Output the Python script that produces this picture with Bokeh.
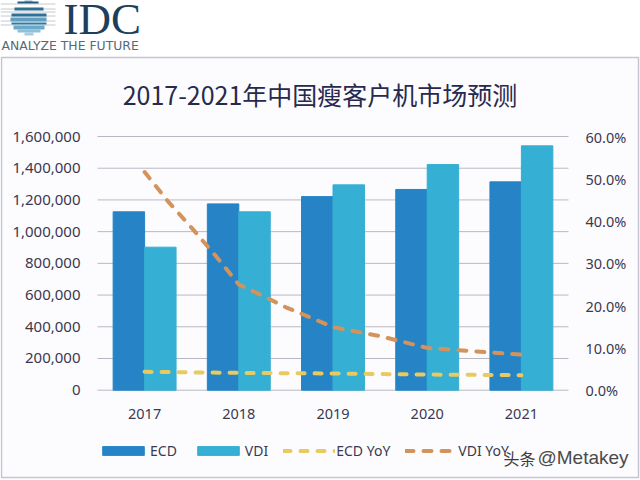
from bokeh.embed import file_html
from bokeh.models import (FixedTicker, Label, Legend, LegendItem, LinearAxis,
                          NumeralTickFormatter, Range1d)
from bokeh.plotting import figure
from bokeh.resources import INLINE

years = [2017, 2018, 2019, 2020, 2021]
ecd = [1125000, 1175000, 1221000, 1266000, 1314000]
vdi = [902000, 1125000, 1295000, 1423000, 1541000]
ecd_yoy = [0.0435, 0.041, 0.0395, 0.037, 0.0355]
# VDI YoY is a smoothed curve: at quarter-year steps
curve_x = [2017, 2017.25, 2017.5, 2017.75, 2018, 2018.25, 2018.5, 2018.75, 2019,
           2019.5, 2020, 2020.5, 2021]
vdi_yoy = [0.516, 0.446, 0.384, 0.319, 0.250, 0.224, 0.196, 0.173, 0.149,
           0.128, 0.100, 0.092, 0.084]
left_ticks = [0, 200000, 400000, 600000, 800000, 1000000, 1200000, 1400000, 1600000]
right_ticks = [0, 0.1, 0.2, 0.3, 0.4, 0.5, 0.6]
title = "2017-2021年中国瘦客户机市场预测"

W, H = 640, 480
TEXT = "#3b3850"
# The frame fills the canvas. Its default ranges are picture pixels (for the logo, title and
# watermark); the chart's own ranges are calibrated so that the plot area lands at
# x 97..568, y 136..389.7 of the picture.
PX_L, PX_R, PX_T, PX_B = 0, 640, 0, 480
X0, X1, Y_TOP, Y_ZERO = 97.0, 568.0, 136.0, 389.7
PX_PER_YEAR = (X1 - X0) / 5
VAL_PER_PX = 1600000 / (Y_ZERO - Y_TOP)
PCT_PER_PX = 0.6 / (Y_ZERO - Y_TOP)

p = figure(width=W, height=H, output_backend="svg", toolbar_location=None,
           x_range=Range1d(PX_L, PX_R), y_range=Range1d(PX_B, PX_T),
           min_border=0, x_axis_type=None, y_axis_type=None,
           background_fill_color="#ffffff", border_fill_color="#ffffff")
p.outline_line_color = None
p.grid.visible = False
p.extra_x_ranges = {"yr": Range1d(2016.5 - (X0 - PX_L) / PX_PER_YEAR,
                                  2016.5 + (PX_R - X0) / PX_PER_YEAR)}
p.extra_y_ranges = {"val": Range1d((Y_ZERO - PX_B) * VAL_PER_PX, (Y_ZERO - PX_T) * VAL_PER_PX),
                    "pct": Range1d((Y_ZERO - PX_B) * PCT_PER_PX, (Y_ZERO - PX_T) * PCT_PER_PX)}

# panel with its rule
p.quad(left=[1], right=[638], top=[57], bottom=[477], fill_color="#fcfcfe",
       line_color="#c4c4d2", line_width=1.5)
# logo: grey rules behind a striped globe
p.quad(left=[0] * 6, right=[55] * 6, top=[3, 8, 11, 15, 20, 24],
       bottom=[4, 9, 12, 16, 21, 25], fill_color="#c3cbd0", line_color=None)
p.quad(left=[24, 17, 14, 11, 10, 11, 13, 17, 24], right=[32, 38, 43, 46, 46, 46, 44, 40, 33],
       top=[0, 1, 7, 13, 17, 22, 25, 29, 32], bottom=[1, 3, 10, 16, 21, 24, 29, 32, 35],
       fill_color=["#1f5f86", "#1f5f86", "#2f6f92", "#2e7097", "#5f9fc2", "#2f7aa3", "#6aa9c9",
                   "#8fc0da", "#a5cde2"], line_color=None)

p.segment(x0=[2016.5] * len(left_ticks), x1=[2021.5] * len(left_ticks), y0=left_ticks,
          y1=left_ticks, x_range_name="yr", y_range_name="val", line_color="#b8b8c4", line_width=1)

r_ecd = p.vbar(x=[y - 0.167 for y in years], top=ecd, width=0.334, color="#2684c6",
               x_range_name="yr", y_range_name="val")
r_vdi = p.vbar(x=[y + 0.167 for y in years], top=vdi, width=0.334, color="#35afd3",
               x_range_name="yr", y_range_name="val")
r_e_y = p.line(years, ecd_yoy, x_range_name="yr", y_range_name="pct", color="#e8ca60",
               line_width=4, line_dash=[7, 10], line_cap="round")
r_v_y = p.line(curve_x, vdi_yoy, x_range_name="yr", y_range_name="pct", color="#d4935a",
               line_width=4, line_dash=[8, 10], line_cap="round")


def style(ax, size, standoff):
    ax.axis_line_color = None
    ax.major_tick_line_color = None
    ax.minor_tick_line_color = None
    ax.major_tick_in = 0
    ax.major_tick_out = 0
    ax.minor_tick_in = 0
    ax.minor_tick_out = 0
    ax.major_label_text_color = TEXT
    ax.major_label_text_font = "Noto Sans"
    ax.major_label_text_font_size = size
    ax.major_label_standoff = standoff


x_ax = LinearAxis(x_range_name="yr", fixed_location=Y_ZERO, ticker=FixedTicker(ticks=years),
                  formatter=NumeralTickFormatter(format="0"))
y_ax = LinearAxis(y_range_name="val", fixed_location=X0, ticker=FixedTicker(ticks=left_ticks),
                  formatter=NumeralTickFormatter(format="0,0"))
r_ax = LinearAxis(y_range_name="pct", fixed_location=X1, ticker=FixedTicker(ticks=right_ticks),
                  formatter=NumeralTickFormatter(format="0.0%"))
style(x_ax, "14.5px", 19)
style(y_ax, "15px", 17)
style(r_ax, "14.5px", 17)
p.add_layout(x_ax, "below")
p.add_layout(y_ax, "left")
p.add_layout(r_ax, "right")

legend = Legend(items=[LegendItem(label="ECD", renderers=[r_ecd]),
                       LegendItem(label="VDI", renderers=[r_vdi]),
                       LegendItem(label="ECD YoY", renderers=[r_e_y]),
                       LegendItem(label="VDI YoY", renderers=[r_v_y])],
                orientation="horizontal", location=(97, 20), background_fill_alpha=0,
                border_line_color=None, glyph_width=52, glyph_height=11, label_standoff=1,
                spacing=15, margin=0, padding=0, label_text_font="Noto Sans",
                label_text_font_size="14px", label_text_color=TEXT)
p.add_layout(legend, "center")


def text(s, x, y, size, color, font="Noto Sans", align="left", baseline="middle"):
    p.add_layout(Label(x=x, y=y, text=s, text_font=font, text_font_size=size, text_color=color,
                       text_align=align, text_baseline=baseline))


text(title, 319.5, 93, "25px", "#28294e", "Noto Sans CJK SC", "center")
text("IDC", 63, 18, "45px", "#1d3f5e", "Liberation Serif")
text("ANALYZE THE FUTURE", 1, 44.5, "12.4px", "#55697a", "DejaVu Sans")
text("头条", 503, 457, "16px", "#3c3c3c", "Noto Sans CJK SC")
text("@Metakey", 537, 457, "19px", "#4a4a4a", "Liberation Sans")

open("out.html", "w").write(file_html(p, INLINE))
